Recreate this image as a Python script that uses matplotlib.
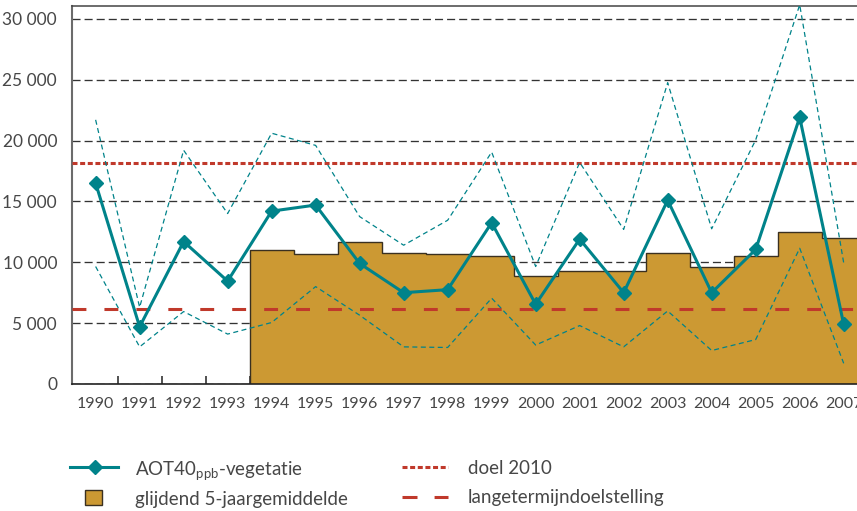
import numpy as np
import matplotlib
matplotlib.use("Agg")
import matplotlib.pyplot as plt
from matplotlib.lines import Line2D
from matplotlib.patches import Rectangle

# ---------------- data ----------------
years = list(range(1990, 2008))
aot40 = [16500, 4700, 11700, 8450, 14200, 14700, 9900, 7500, 7750, 13250,
         6550, 11900, 7500, 15100, 7500, 11050, 21900, 4900]
upper = [21700, 6300, 19200, 14000, 20600, 19600, 13750, 11400, 13450, 19050,
         9650, 18200, 12700, 24750, 12750, 20050, 31150, 9950]
lower = [9650, 3050, 5950, 4100, 5050, 8000, 5650, 3050, 3000, 7050,
         3200, 4800, 3050, 6000, 2750, 3650, 11150, 1700]
ma_years = list(range(1994, 2008))
ma_values = [11000, 10650, 11700, 10800, 10700, 10500, 8850, 9300, 9300,
             10800, 9600, 10500, 12500, 12000]
doel_2010 = 18150
lange_termijn = 6200
yticks = [0, 5000, 10000, 15000, 20000, 25000, 30000]
ytick_labels = ["0", "5 000", "10 000", "15 000", "20 000", "25 000", "30 000"]

label_line = "AOT40$_{\\mathrm{ppb}}$-vegetatie"
label_ma = "glijdend 5-jaargemiddelde"
label_doel = "doel 2010"
label_lange = "langetermijndoelstelling"

# ---------------- style ----------------
plt.rcParams['font.family'] = ['Lato', 'DejaVu Sans']
plt.rcParams['mathtext.fontset'] = 'custom'
plt.rcParams['mathtext.rm'] = 'Lato'
plt.rcParams['mathtext.it'] = 'Lato:italic'
plt.rcParams['lines.scale_dashes'] = False

TEAL = '#00838a'
OCHRE = '#cc9933'
RED = '#c0392b'
TXT = '#474747'

W, H = 857, 511
fig = plt.figure(figsize=(W / 100, H / 100), dpi=100)
left_px, right_px, top_px, bot_px = 72.3, 865.7, 6, 384
ax = fig.add_axes([left_px / W, 1 - bot_px / H, (right_px - left_px) / W,
                   (bot_px - top_px) / H])

ax.set_xlim(1989.47, 2007.5)
ax.set_ylim(0, 31050)

# grid
ax.set_axisbelow(True)
ax.yaxis.grid(True, linestyle=(0, (5.8, 2.9)), color='#333333', linewidth=0.95)

# moving-average bars (step shape)
edges = np.append(np.array(ma_years) - 0.5, ma_years[-1] + 0.5)
ax.stairs(ma_values, edges, fill=True, facecolor=OCHRE, edgecolor='none',
          baseline=0, zorder=1.5)
ax.stairs(ma_values, edges, fill=False, color='#3a3020', linewidth=1.0,
          baseline=0, zorder=1.6)

# target lines
ax.axhline(doel_2010, color=RED, linewidth=2.2, linestyle=(0, (3.6, 1.9)),
           dash_capstyle='butt', zorder=3)
ax.axhline(lange_termijn, color=RED, linewidth=2.2, linestyle=(0, (10, 13)),
           dash_capstyle='butt', zorder=3)

# uncertainty band lines
ax.plot(years, upper, color=TEAL, linewidth=0.9, linestyle=(0, (3.6, 2.5)), zorder=3.5)
ax.plot(years, lower, color=TEAL, linewidth=0.9, linestyle=(0, (3.6, 2.5)), zorder=3.5)

# main series
ax.plot(years, aot40, color=TEAL, linewidth=2.2, marker='D', markersize=7.5,
        markerfacecolor=TEAL, markeredgecolor=TEAL, zorder=4)

# axes formatting
ax.set_yticks(yticks)
ax.set_yticklabels(ytick_labels)
ax.set_xticks(years)
ax.set_xticklabels([str(y) for y in years])
ax.set_xticks(np.array(years[:-1]) + 0.5, minor=True)
ax.tick_params(axis='y', length=0, pad=11, labelsize=12.5, labelcolor=TXT)
ax.tick_params(axis='x', which='major', length=0, pad=9, labelsize=11.5, labelcolor=TXT)
ax.tick_params(axis='x', which='minor', direction='in', length=6, width=1.1,
               color='#222222')

ax.spines['right'].set_visible(False)
ax.spines['top'].set_color('#444444')
ax.spines['top'].set_linewidth(1.1)
ax.spines['left'].set_color('#6b6b6b')
ax.spines['left'].set_linewidth(1.5)
ax.spines['bottom'].set_color('#222222')
ax.spines['bottom'].set_linewidth(1.2)

# ---------------- legend (manual) ----------------
def fx(px):
    return px / W

def fy(py):
    return 1 - py / H

fig.add_artist(Line2D([fx(70), fx(118)], [fy(466.7), fy(466.7)], color=TEAL,
                      linewidth=2.2))
fig.add_artist(Line2D([fx(95)], [fy(466.7)], color=TEAL, marker='D',
                      markersize=7, linestyle='none'))
fig.add_artist(Rectangle((fx(85), fy(505)), fx(17), 15 / H, facecolor=OCHRE,
                         edgecolor='#3a3020', linewidth=1.0))
fig.add_artist(Line2D([fx(402), fx(448)], [fy(466.7), fy(466.7)], color=RED,
                      linewidth=2.2, linestyle=(0, (3.6, 1.9)), dash_capstyle='butt'))
fig.add_artist(Line2D([fx(402), fx(448)], [fy(497.3), fy(497.3)], color=RED,
                      linewidth=2.2, linestyle=(0, (10.8, 12.3)), dash_capstyle='butt'))

lkw = dict(fontsize=13.5, color=TXT, va='baseline', ha='left')
fig.text(fx(135), fy(475), label_line, **lkw)
fig.text(fx(135), fy(505), label_ma, **lkw)
fig.text(fx(468), fy(474.3), label_doel, **lkw)
fig.text(fx(468), fy(503.3), label_lange, **lkw)

fig.savefig("out.png", dpi=100)
